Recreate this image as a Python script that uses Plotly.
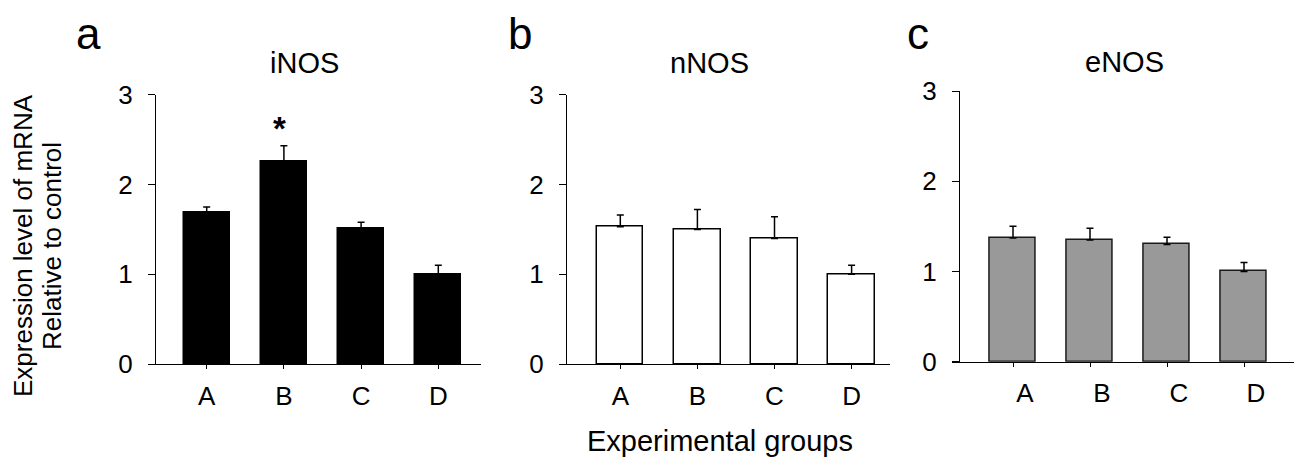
import plotly.graph_objects as go

W, H = 1294, 457

groups = ["A", "B", "C", "D"]
panel_letters = ["a", "b", "c"]
panel_titles = ["iNOS", "nNOS", "eNOS"]
inos_mean = [1.69, 2.25, 1.51, 1.00]
inos_err = [0.06, 0.18, 0.07, 0.10]
nnos_mean = [1.53, 1.50, 1.40, 1.00]
nnos_err = [0.13, 0.22, 0.24, 0.10]
enos_mean = [1.37, 1.35, 1.30, 1.00]
enos_err = [0.13, 0.13, 0.08, 0.10]
y_ticks = [0, 1, 2, 3]
x_title = "Experimental groups"
y_title_1 = "Expression level of mRNA"
y_title_2 = "Relative to control"

FONT = "Arial, Liberation Sans, sans-serif"

def px_x(p):
    return p / W

def px_y(p):
    return 1 - p / H

panels = [
    dict(mean=inos_mean, err=inos_err, fill="#000000", line="#000000",
         xline=(148, 481), yaxis_x=155, y0=364.3, y3=94.5, first=206.7, step=77.2, shift=0),
    dict(mean=nnos_mean, err=nnos_err, fill="#ffffff", line="#000000",
         xline=(559, 890), yaxis_x=566, y0=364.3, y3=94.5, first=620.3, step=77.1, shift=0),
    dict(mean=enos_mean, err=enos_err, fill="#999999", line="#1a1a1a",
         xline=(951.7, 1294), yaxis_x=959, y0=361.7, y3=91, first=1013, step=77.0, shift=12),
]

fig = go.Figure()
xs = list(range(len(groups)))
for i, p in enumerate(panels):
    n = "" if i == 0 else str(i + 1)
    fig.add_trace(go.Bar(
        x=xs, y=p["mean"], width=0.6,
        marker=dict(color=p["fill"], line=dict(color=p["line"], width=1.5)),
        error_y=dict(type="data", array=p["err"], arrayminus=[0] * 4, symmetric=False,
                     color="#000000", thickness=1.5, width=3.5),
        xaxis="x" + n, yaxis="y" + n, showlegend=False,
    ))
    l, r = p["xline"]
    xr = [(l - p["first"]) / p["step"], (r - p["first"]) / p["step"]]
    fig.layout["xaxis" + n] = dict(
        domain=[px_x(l), px_x(r)], range=xr, anchor="y" + n,
        showline=True, linecolor="#000000", linewidth=1.3,
        tickmode="array", tickvals=xs, ticktext=groups,
        ticks="outside", ticklen=4, tickcolor="#000000", tickwidth=1,
        ticklabelstandoff=4, ticklabelshift=p["shift"],
        tickfont=dict(family=FONT, size=26, color="#000000"),
        showgrid=False, zeroline=False, fixedrange=True, automargin=False,
    )
    fig.layout["yaxis" + n] = dict(
        domain=[px_y(p["y0"]), px_y(p["y3"])], range=[0, 3],
        anchor="free", position=px_x(p["yaxis_x"]),
        showline=True, linecolor="#000000", linewidth=1.3,
        tickmode="array", tickvals=y_ticks,
        ticks="outside", ticklen=7, tickcolor="#000000", tickwidth=1,
        ticklabelstandoff=10,
        tickfont=dict(family=FONT, size=26, color="#000000"),
        showgrid=False, zeroline=False, fixedrange=True, automargin=False,
    )

annotations = []
letter_pos = [(88, 50), (520, 50), (918, 50)]
title_pos = [(304, 74), (709, 74), (1124.5, 73)]
for i in range(3):
    lx, ly = letter_pos[i]
    annotations.append(dict(text=panel_letters[i], x=px_x(lx), y=px_y(ly), xref="paper", yref="paper",
                            xanchor="center", yanchor="bottom", showarrow=False,
                            font=dict(family=FONT, size=44, color="#000000"), yshift=-10))
    tx, ty = title_pos[i]
    annotations.append(dict(text=panel_titles[i], x=px_x(tx), y=px_y(ty), xref="paper", yref="paper",
                            xanchor="center", yanchor="bottom", showarrow=False,
                            font=dict(family=FONT, size=29, color="#000000"), yshift=-7))

annotations.append(dict(text="<b>*</b>", x=1, y=inos_mean[1] + inos_err[1], xref="x", yref="y",
                        xanchor="center", yanchor="bottom", showarrow=False, xshift=-4, yshift=-3,
                        font=dict(family=FONT, size=33, color="#000000")))
annotations.append(dict(text=x_title, x=px_x(720), y=px_y(441), xref="paper", yref="paper",
                        xanchor="center", yanchor="middle", showarrow=False,
                        font=dict(family=FONT, size=29, color="#000000")))
annotations.append(dict(text=y_title_1, x=px_x(23), y=px_y(246), xref="paper", yref="paper",
                        xanchor="center", yanchor="middle", showarrow=False, textangle=-90,
                        font=dict(family=FONT, size=26, color="#000000")))
annotations.append(dict(text=y_title_2, x=px_x(52), y=px_y(246), xref="paper", yref="paper",
                        xanchor="center", yanchor="middle", showarrow=False, textangle=-90,
                        font=dict(family=FONT, size=26, color="#000000")))

fig.update_layout(
    width=W, height=H, margin=dict(l=0, r=0, t=0, b=0, autoexpand=False),
    paper_bgcolor="#ffffff", plot_bgcolor="rgba(0,0,0,0)",
    annotations=annotations, bargap=0,
)

fig.write_html("out.html", config={"displayModeBar": False},
               post_script="document.body.style.margin='0px';document.body.style.overflow='hidden';")
